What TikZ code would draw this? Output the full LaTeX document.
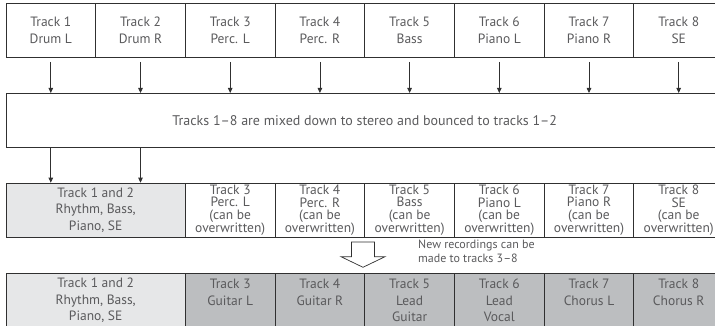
\documentclass[tikz,border=0pt]{standalone}
\usepackage{fontspec}
\setmainfont{PT Sans}
\usetikzlibrary{arrows.meta,calc}
\definecolor{txt}{HTML}{5A5A5C}
\definecolor{ln}{HTML}{303030}
\definecolor{lightfill}{HTML}{E6E7E8}
\definecolor{darkfill}{HTML}{BCBEC0}
\begin{document}
\begin{tikzpicture}[x=1pt,y=-1pt,
  cell/.style={draw=ln, line width=0.9pt, minimum width=89.7pt, minimum height=54pt,
    inner sep=0pt, align=center, text=txt, anchor=north west,
    font=\fontsize{13.5}{16.7}\selectfont},
  tight/.style={font=\fontsize{13.5}{12.8}\selectfont},
  wide/.style={minimum width=179.4pt},
  lightcell/.style={fill=lightfill},
  darkcell/.style={fill=darkfill},
  arr/.style={draw=ln, line width=0.8pt, -{Triangle[length=5pt,width=4.5pt]}},
  hollow/.style={draw=ln, line width=0.7pt, fill=white, line join=miter}]
\useasboundingbox (0,0) rectangle (715,326);
\clip (0,0) rectangle (715,326);
% top row
\node[cell] (t1) at (5.5,3) {Track 1\\Drum L};
\node[cell] (t2) at (95.2,3) {Track 2\\Drum R};
\node[cell] (t3) at (184.9,3) {Track 3\\Perc. L};
\node[cell] (t4) at (274.6,3) {Track 4\\Perc. R};
\node[cell] (t5) at (364.3,3) {Track 5\\Bass};
\node[cell] (t6) at (454,3) {Track 6\\Piano L};
\node[cell] (t7) at (543.7,3) {Track 7\\Piano R};
\node[cell] (t8) at (633.4,3) {Track 8\\SE};
% mix box
\node[cell, minimum width=717.6pt, font=\fontsize{14}{16}\selectfont] (mix) at (5.5,93)
  {Tracks 1–8 are mixed down to stereo and bounced to tracks 1–2};
% third row
\node[cell, wide, lightcell] (r12) at (5.5,182.7) {Track 1 and 2\\Rhythm, Bass,\\Piano, SE};
\node[cell, tight] (r3) at (184.9,182.7) {Track 3\\Perc. L\\(can be\\overwritten)};
\node[cell, tight] (r4) at (274.6,182.7) {Track 4\\Perc. R\\(can be\\overwritten)};
\node[cell, tight] (r5) at (364.3,182.7) {Track 5\\Bass\\(can be\\overwritten)};
\node[cell, tight] (r6) at (454,182.7) {Track 6\\Piano L\\(can be\\overwritten)};
\node[cell, tight] (r7) at (543.7,182.7) {Track 7\\Piano R\\(can be\\overwritten)};
\node[cell, tight] (r8) at (633.4,182.7) {Track 8\\SE\\(can be\\overwritten)};
% bottom row
\node[cell, wide, lightcell, minimum height=54.6pt] (b12) at (5.5,272.7) {Track 1 and 2\\Rhythm, Bass,\\Piano, SE};
\node[cell, darkcell, minimum height=54.6pt] (b3) at (184.9,272.7) {Track 3\\Guitar L\\\mbox{}};
\node[cell, darkcell, minimum height=54.6pt] (b4) at (274.6,272.7) {Track 4\\Guitar R\\\mbox{}};
\node[cell, darkcell, minimum height=54.6pt] (b5) at (364.3,272.7) {Track 5\\Lead\\Guitar};
\node[cell, darkcell, minimum height=54.6pt] (b6) at (454,272.7) {Track 6\\Lead\\Vocal};
\node[cell, darkcell, minimum height=54.6pt] (b7) at (543.7,272.7) {Track 7\\Chorus L\\\mbox{}};
\node[cell, darkcell, minimum height=54.6pt] (b8) at (633.4,272.7) {Track 8\\Chorus R\\\mbox{}};
% arrows top row -> mix
\foreach \i in {1,...,8}
  \draw[arr] ([yshift=-4pt]t\i.south) -- (t\i.south |- mix.north);
% arrows mix -> row 3
\draw[arr] (t1.south |- mix.south) -- (t1.south |- r12.north);
\draw[arr] (t2.south |- mix.south) -- (t2.south |- r12.north);
% hollow arrow
\coordinate (ha) at (363,242);
\draw[hollow] ($(ha)+(-11.5,0)$) -- ++(23,0) -- ++(0,14.7) -- ++(10.5,0)
  -- ($(ha)+(0,25.3)$) -- ($(ha)+(-22,14.7)$) -- ($(ha)+(-11.5,14.7)$) -- cycle;
\node[anchor=north west, inner sep=0pt, align=left, text=txt,
  font=\fontsize{12}{13.5}\selectfont] (note) at (418,240)
  {New recordings can be\\made to tracks 3–8};
\end{tikzpicture}
\end{document}
